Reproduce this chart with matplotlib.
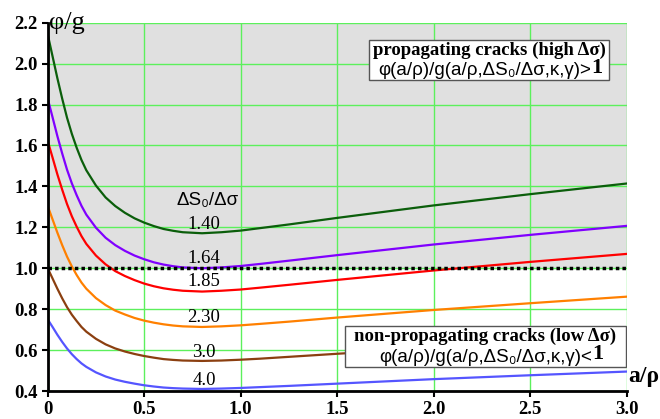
import matplotlib
matplotlib.use('Agg')
import matplotlib.pyplot as plt
from matplotlib.patches import Rectangle

# a/rho sample positions
x_vals = [0, 0.025, 0.05, 0.075, 0.1, 0.125, 0.15, 0.175, 0.2, 0.25, 0.3, 0.35, 0.4, 0.45,
          0.5, 0.55, 0.6, 0.65, 0.7, 0.8, 0.9, 1.0, 1.1, 1.25, 1.5, 2.0, 2.5, 3.0]

# phi/g for each dS0/dsigma
ratio_labels = ['1.40', '1.64', '1.85', '2.30', '3.0', '4.0']
curve_140 = [2.143, 2.036, 1.929, 1.829, 1.736, 1.657, 1.589, 1.529, 1.479, 1.404, 1.346,
             1.304, 1.271, 1.244, 1.223, 1.206, 1.192, 1.183, 1.176, 1.171, 1.176, 1.184,
             1.196, 1.214, 1.246, 1.307, 1.362, 1.414]
curve_164 = [1.829, 1.738, 1.646, 1.561, 1.482, 1.415, 1.357, 1.305, 1.262, 1.198, 1.149,
             1.113, 1.085, 1.062, 1.044, 1.029, 1.018, 1.010, 1.004, 1.000, 1.004, 1.011,
             1.021, 1.037, 1.064, 1.116, 1.163, 1.207]
curve_185 = [1.622, 1.541, 1.459, 1.384, 1.314, 1.254, 1.203, 1.157, 1.119, 1.062, 1.019,
             0.986, 0.962, 0.942, 0.925, 0.912, 0.902, 0.895, 0.890, 0.886, 0.890, 0.896,
             0.905, 0.919, 0.943, 0.989, 1.031, 1.070]
curve_230 = [1.304, 1.239, 1.174, 1.113, 1.057, 1.009, 0.967, 0.930, 0.900, 0.854, 0.820,
             0.793, 0.774, 0.757, 0.744, 0.734, 0.726, 0.720, 0.716, 0.713, 0.716, 0.721,
             0.728, 0.739, 0.759, 0.796, 0.829, 0.861]
curve_300 = [1.000, 0.950, 0.900, 0.853, 0.810, 0.773, 0.742, 0.713, 0.690, 0.655, 0.628,
             0.608, 0.593, 0.581, 0.571, 0.563, 0.556, 0.552, 0.549, 0.547, 0.549, 0.553,
             0.558, 0.567, 0.582, 0.610, 0.636, 0.660]
curve_400 = [0.750, 0.713, 0.675, 0.640, 0.608, 0.580, 0.556, 0.535, 0.518, 0.491, 0.471,
             0.456, 0.445, 0.436, 0.428, 0.422, 0.417, 0.414, 0.412, 0.410, 0.412, 0.415,
             0.419, 0.425, 0.436, 0.458, 0.477, 0.495]
curves = [curve_140, curve_164, curve_185, curve_230, curve_300, curve_400]
colors = ['#0b5e0b', '#8000ff', '#ff0000', '#ff8000', '#8b3f10', '#5555ff']
label_y = [1.215, 1.05, 0.935, 0.76, 0.59, 0.45]

x_ticks = [0, 0.5, 1.0, 1.5, 2.0, 2.5, 3.0]
x_tick_labels = ['0', '0.5', '1.0', '1.5', '2.0', '2.5', '3.0']
y_ticks = [0.4, 0.6, 0.8, 1.0, 1.2, 1.4, 1.6, 1.8, 2.0, 2.2]

serif = 'Liberation Serif'
sans = 'Liberation Sans'

fig = plt.figure(figsize=(6.6, 4.19), dpi=100)
ax = fig.add_axes([0.0723, 0.0668, 0.877, 0.879])
ax.set_xlim(0, 3.0)
ax.set_ylim(0.4, 2.2)

# grey zone above phi/g = 1
ax.axhspan(1.0, 2.2, color='#e0e0e0', zorder=0)
ax.set_xticks(x_ticks)
ax.set_xticklabels(x_tick_labels)
ax.set_yticks(y_ticks)
ax.set_yticklabels(['%.1f' % v for v in y_ticks])
ax.grid(True, color='#5cf05c', lw=1.0, zorder=1)
ax.set_axisbelow(True)

for s in ['top', 'right']:
    ax.spines[s].set_visible(False)
for s in ['left', 'bottom']:
    ax.spines[s].set_linewidth(2)
    ax.spines[s].set_zorder(5)
ax.tick_params(axis='both', length=4, width=1.5, color='black', pad=3)
for lab in ax.get_xticklabels() + ax.get_yticklabels():
    lab.set_fontfamily(serif)
    lab.set_fontweight('bold')
    lab.set_fontsize(13.5)

for yv, c in zip(curves, colors):
    ax.plot(x_vals, yv, color=c, lw=1.6, zorder=3)

ax.axhline(1.0, color='black', lw=2.5, ls=(0, (1, 0.9)), zorder=4)

for lab, ly in zip(ratio_labels, label_y):
    ax.text(0.81, ly, lab, family=serif, fontsize=13.5, ha='center', va='center', zorder=6)
ax.text(0.83, 1.33, 'ΔS₀/Δσ', family=sans, fontsize=13.5, ha='center', va='center', zorder=6)

ax.text(0.008, 2.2, 'φ/g', family=serif, fontsize=19, ha='left', va='center', zorder=6)
ax.text(3.01, 0.47, 'a/ρ', family=serif, fontsize=17, fontweight='bold',
        ha='left', va='center', clip_on=False)

# text boxes
ax.add_patch(Rectangle((1.665, 1.92), 1.243, 0.196, facecolor='white',
                       edgecolor='#555555', lw=1.0, zorder=6))
ax.text(2.287, 2.066, 'propagating cracks (high Δσ)', family=serif, fontweight='bold',
        fontsize=13.5, ha='center', va='center', zorder=7)
t1 = ax.text(2.265, 1.966, 'φ(a/ρ)/g(a/ρ,ΔS₀/Δσ,κ,γ)>', family=sans, fontsize=13.5,
             ha='center', va='center', zorder=7)
ax.annotate('1', xy=(1, 0.08), xycoords=t1, xytext=(0, 0), textcoords='offset points',
            family=serif, fontweight='bold', fontsize=16, ha='left', va='bottom', zorder=7)

ax.add_patch(Rectangle((1.541, 0.516), 1.455, 0.201, facecolor='white',
                       edgecolor='#555555', lw=1.0, zorder=6))
ax.text(2.268, 0.665, 'non-propagating cracks (low Δσ)', family=serif, fontweight='bold',
        fontsize=13.5, ha='center', va='center', zorder=7)
t2 = ax.text(2.27, 0.565, 'φ(a/ρ)/g(a/ρ,ΔS₀/Δσ,κ,γ)<', family=sans, fontsize=13.5,
             ha='center', va='center', zorder=7)
ax.annotate('1', xy=(1, 0.08), xycoords=t2, xytext=(0, 0), textcoords='offset points',
            family=serif, fontweight='bold', fontsize=16, ha='left', va='bottom', zorder=7)

fig.savefig('out.png', dpi=100)
